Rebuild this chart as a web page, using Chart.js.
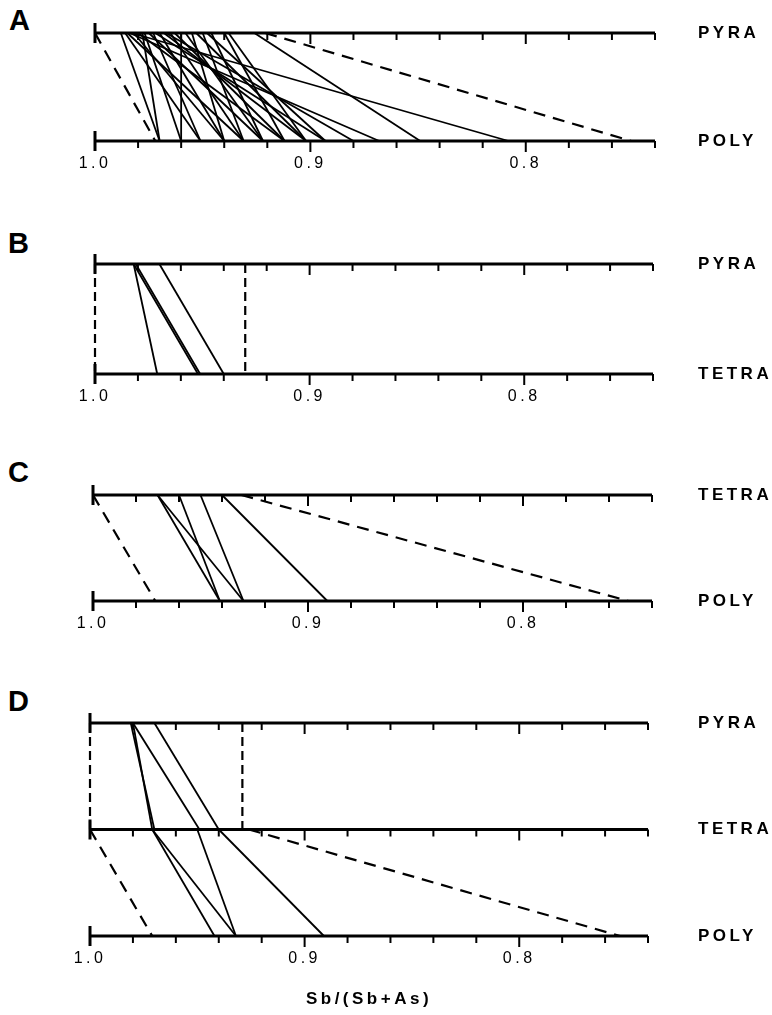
<!DOCTYPE html>
<html>
<head>
<meta charset="utf-8">
<script src="https://cdn.jsdelivr.net/npm/chart.js@4.4.1/dist/chart.umd.min.js"></script>
<style>
  body { margin: 0; background: #fff; width: 772px; height: 1015px; position: relative; overflow: hidden; }
  .panel { position: absolute; left: 0; width: 772px; }
  .letter { position: absolute; font: bold 29px 'Liberation Sans', Arial, sans-serif; color: #000; }
</style>
</head>
<body>
<div class="letter" style="left:9px;top:4px">A</div>
<div class="letter" style="left:8px;top:227px">B</div>
<div class="letter" style="left:8px;top:456px">C</div>
<div class="letter" style="left:8px;top:685px">D</div>

<div class="panel" id="boxA" style="top:19px;height:162px"><canvas id="chartA"></canvas></div>
<div class="panel" id="boxB" style="top:250px;height:164px"><canvas id="chartB"></canvas></div>
<div class="panel" id="boxC" style="top:481px;height:160px"><canvas id="chartC"></canvas></div>
<div class="panel" id="boxD" style="top:709px;height:306px"><canvas id="chartD"></canvas></div>

<script>
// x軸 (Sb/(Sb+As))
const xMin = 0.74;
const xMax = 1.0;
const labelledTicks = [1.0, 0.9, 0.8];

// A: PYRA - POLY  [上の値, 下の値]
const levelsA = ['POLY', 'PYRA'];
const solidA = [
  [0.988, 0.970], [0.986, 0.951], [0.985, 0.931], [0.983, 0.808], [0.984, 0.868],
  [0.982, 0.940], [0.980, 0.912], [0.978, 0.970], [0.977, 0.960], [0.975, 0.922],
  [0.973, 0.951], [0.972, 0.893], [0.970, 0.940], [0.968, 0.902], [0.967, 0.880],
  [0.965, 0.931], [0.963, 0.912], [0.960, 0.960], [0.958, 0.922], [0.955, 0.940],
  [0.953, 0.902], [0.950, 0.931], [0.948, 0.893], [0.946, 0.922], [0.940, 0.912],
  [0.938, 0.902], [0.926, 0.849]
];
const dashedA = [[1.0, 0.972], [0.921, 0.751]];

// B: PYRA - TETRA
const levelsB = ['TETRA', 'PYRA'];
const solidB = [[0.982, 0.971], [0.982, 0.952], [0.981, 0.951], [0.970, 0.940]];
const dashedB = [[1.0, 1.0], [0.930, 0.930]];

// C: TETRA - POLY
const levelsC = ['POLY', 'TETRA'];
const solidC = [[0.970, 0.941], [0.970, 0.930], [0.960, 0.941], [0.950, 0.930], [0.940, 0.891]];
const dashedC = [[1.0, 0.971], [0.931, 0.751]];

// D: PYRA - TETRA - POLY
const levelsD = ['POLY', 'TETRA', 'PYRA'];
const solidD_up = [[0.981, 0.970], [0.980, 0.971], [0.980, 0.949], [0.970, 0.940]];
const dashedD_up = [[1.0, 1.0], [0.929, 0.929]];
const solidD_low = [[0.971, 0.942], [0.971, 0.932], [0.950, 0.932], [0.940, 0.891]];
const dashedD_low = [[1.0, 0.971], [0.926, 0.753]];

const FONT = "'Liberation Sans', Arial, sans-serif";

// 軸の線と目盛りを描く
const axisLines = {
  id: 'axisLines',
  beforeDraw(chart) {
    chart.ctx.letterSpacing = '3.5px';
  },
  beforeDatasetsDraw(chart) {
    const ctx = chart.ctx;
    const x = chart.scales.x;
    const y = chart.scales.y;
    const left = x.getPixelForValue(xMax);
    const right = x.getPixelForValue(xMin);
    ctx.save();
    ctx.strokeStyle = '#000';
    ctx.lineCap = 'butt';
    y.ticks.forEach(t => {
      const py = y.getPixelForValue(t.value);
      ctx.lineWidth = 3;
      ctx.beginPath();
      ctx.moveTo(left, py);
      ctx.lineTo(right, py);
      ctx.stroke();
      ctx.beginPath();
      ctx.moveTo(left, py - 10);
      ctx.lineTo(left, py + 10);
      ctx.stroke();
      ctx.lineWidth = 2;
      x.ticks.forEach(xt => {
        if (xt.value >= xMax) return;
        const major = labelledTicks.includes(xt.value);
        const px = x.getPixelForValue(xt.value);
        ctx.beginPath();
        ctx.moveTo(px, py);
        ctx.lineTo(px, py + (major ? 11 : 7));
        ctx.stroke();
      });
    });
    ctx.restore();
  }
};

function tieSets(pairs, hi, lo, dashed) {
  return pairs.map(p => ({
    data: [{ x: p[0], y: hi }, { x: p[1], y: lo }],
    showLine: true,
    borderColor: '#000',
    borderWidth: dashed ? 2.2 : 1.8,
    borderDash: dashed ? (p[0] === p[1] ? [9, 5] : [12, 8]) : [],
    pointRadius: 0,
    clip: false
  }));
}

function makeChart(id, levels, datasets, x1, x2, axisH, withTitle) {
  new Chart(document.getElementById(id), {
    type: 'scatter',
    data: { datasets: datasets },
    options: {
      responsive: true,
      maintainAspectRatio: false,
      animation: false,
      layout: { padding: { left: x1, top: 14, right: 0, bottom: 0 } },
      plugins: { legend: { display: false }, tooltip: { enabled: false } },
      scales: {
        x: {
          type: 'linear',
          reverse: true,
          min: xMin,
          max: xMax,
          grid: { display: false, drawTicks: false },
          border: { display: false },
          ticks: {
            stepSize: 0.02,
            autoSkip: false,
            maxRotation: 0,
            padding: 13,
            color: '#000',
            font: { family: FONT, size: 16 },
            callback: v => labelledTicks.includes(v) ? v.toFixed(1) : ''
          },
          title: {
            display: withTitle,
            text: 'Sb/(Sb+As)',
            color: '#000',
            font: { family: FONT, size: 17, weight: 'bold' },
            padding: { top: 0, bottom: 5 }
          },
          afterFit: s => { s.height = axisH; }
        },
        y: {
          type: 'linear',
          position: 'right',
          min: 0,
          max: levels.length - 1,
          grid: { display: false, drawTicks: false },
          border: { display: false },
          ticks: {
            stepSize: 1,
            padding: 698 - x2,
            color: '#000',
            font: { family: FONT, size: 17, weight: 'bold' },
            callback: v => levels[v]
          },
          afterFit: s => {
            s.width = 772 - x2;
            s.paddingTop = 0;
            s.paddingBottom = 0;
          }
        }
      }
    },
    plugins: [axisLines]
  });
}

makeChart('chartA', levelsA,
  tieSets(solidA, 1, 0, false).concat(tieSets(dashedA, 1, 0, true)),
  95, 655, 40, false);

makeChart('chartB', levelsB,
  tieSets(solidB, 1, 0, false).concat(tieSets(dashedB, 1, 0, true)),
  95, 653, 40, false);

makeChart('chartC', levelsC,
  tieSets(solidC, 1, 0, false).concat(tieSets(dashedC, 1, 0, true)),
  93, 652, 40, false);

makeChart('chartD', levelsD,
  tieSets(solidD_up, 2, 1, false)
    .concat(tieSets(dashedD_up, 2, 1, true))
    .concat(tieSets(solidD_low, 1, 0, false))
    .concat(tieSets(dashedD_low, 1, 0, true)),
  90, 648, 79, true);
</script>
</body>
</html>
